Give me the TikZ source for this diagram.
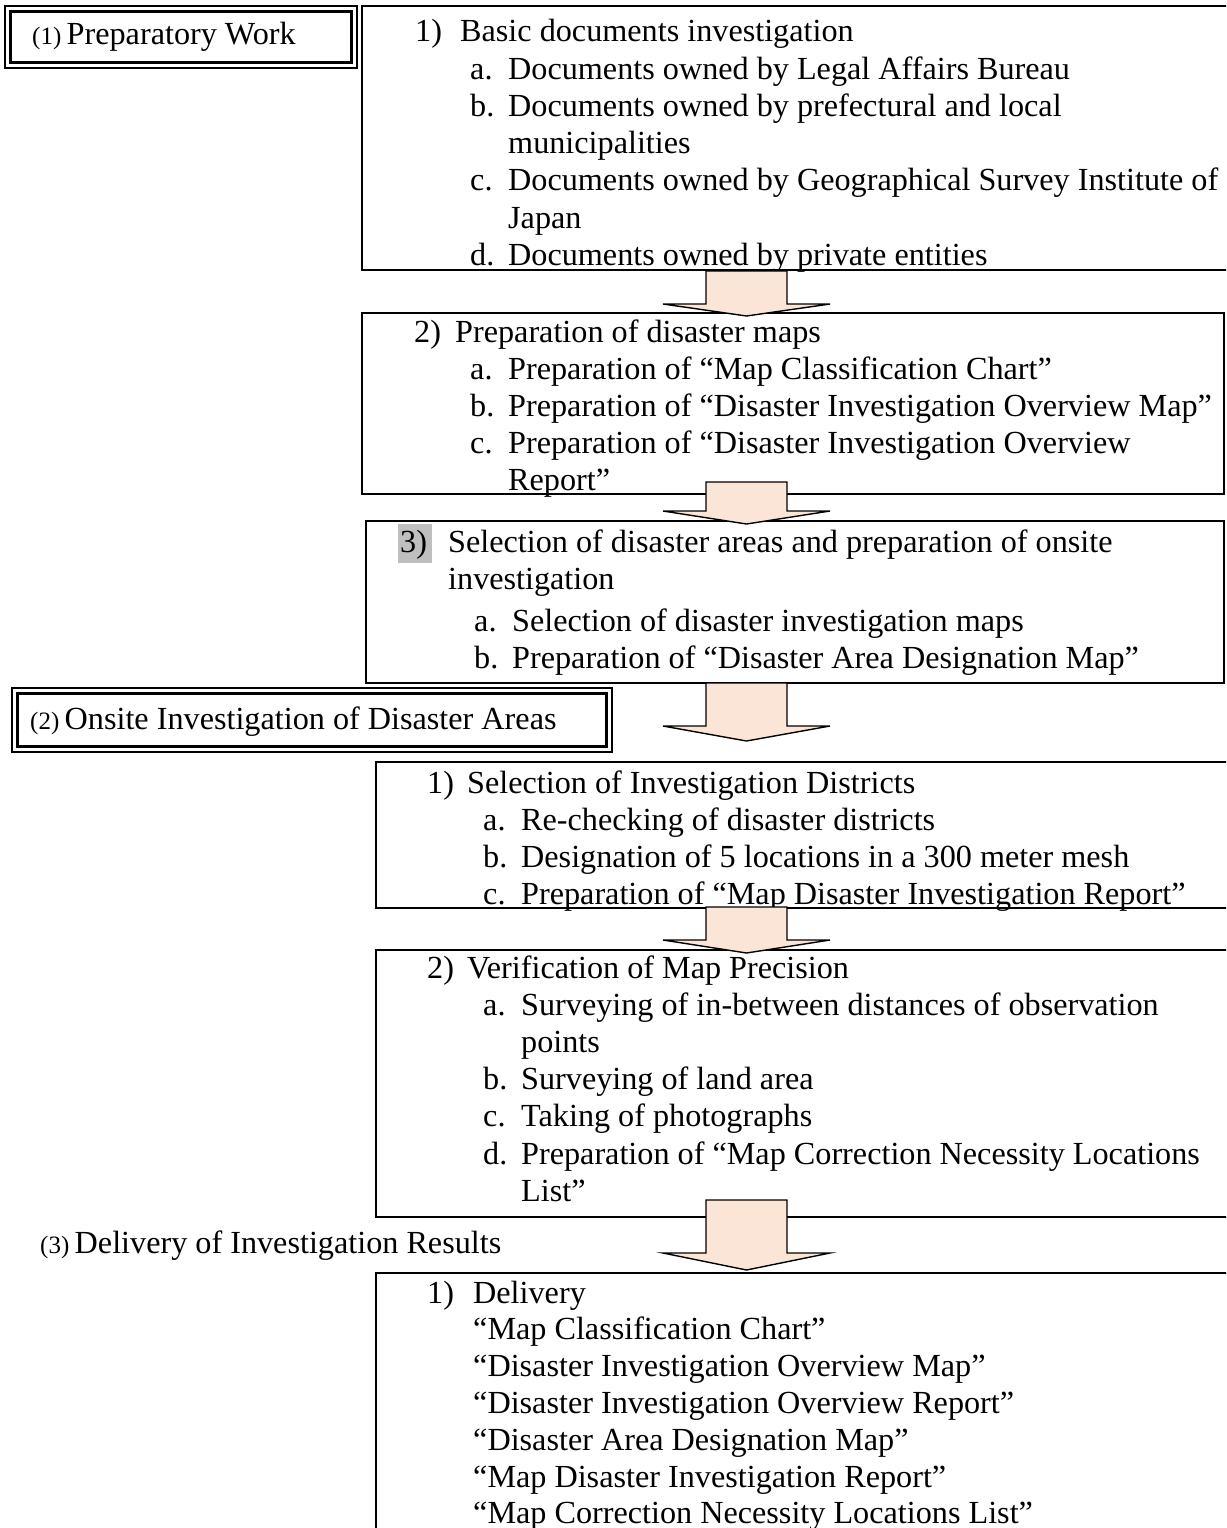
\documentclass[tikz,border=0pt]{standalone}
\usepackage{fontspec}
\setmainfont{Liberation Serif}
\definecolor{peach}{HTML}{FBE5D6}
\newcommand\Lrow[4]{\leavevmode\rlap{\hspace*{#1pt}#2}\hspace*{#3pt}#4}
\begin{document}
\begin{tikzpicture}[x=1pt,y=-1pt,
  txt/.style={anchor=base west,inner sep=0pt,font=\fontsize{32.2}{37.2}\selectfont},
  boxline/.style={draw=black,line width=1.4pt},
  outerline/.style={draw=black,line width=1.1pt},
  innerline/.style={draw=black,line width=2.6pt},
  bigarrow/.style={draw=black,line width=1.4pt,fill=peach,line join=miter}]
\useasboundingbox (0,0) rectangle (1226,1528);
\clip (0,0) rectangle (1226,1528);
\fill[white] (0,0) rectangle (1226,1528);

% ---- double box (1)
\draw[outerline] (5,6) rectangle (357,68);
\draw[innerline] (10.5,11.5) rectangle (351.5,62.5);
\node[txt] (h1) at (32,45) {{\fontsize{25}{30}\selectfont(1)}\,Preparatory Work};

% ---- box 1
\draw[boxline] (362,6) rectangle (1240,270);
\node[txt] (t1) at (362,42) {\parbox[t]{900pt}{%
\Lrow{53}{1)}{98}{Basic documents investigation}\\
\Lrow{108}{a.}{146}{Documents owned by Legal Affairs Bureau}\\
\Lrow{108}{b.}{146}{Documents owned by prefectural and local}\\
\Lrow{0}{}{146}{municipalities}\\
\Lrow{108}{c.}{146}{Documents owned by Geographical Survey Institute of}\\
\Lrow{0}{}{146}{Japan}\\
\Lrow{108}{d.}{146}{Documents owned by private entities}}};

% ---- box 2
\draw[boxline] (362,313) rectangle (1224,494);
\node[txt] (t2) at (362,342) {\parbox[t]{900pt}{%
\Lrow{52}{2)}{93}{Preparation of disaster maps}\\
\Lrow{108}{a.}{146}{Preparation of “Map Classification Chart”}\\
\Lrow{108}{b.}{146}{Preparation of “Disaster Investigation Overview Map”}\\
\Lrow{108}{c.}{146}{Preparation of “Disaster Investigation Overview}\\
\Lrow{0}{}{146}{Report”}}};

% ---- box 3
\draw[boxline] (366,521) rectangle (1224,683);
\fill[gray!50] (398,524) rectangle (432,563);
\node[txt] (t3) at (366,552) {\parbox[t]{900pt}{%
\Lrow{34}{3)}{82}{Selection of disaster areas and preparation of onsite}\\
\Lrow{0}{}{82}{investigation}\\[5pt]
\Lrow{108}{a.}{146}{Selection of disaster investigation maps}\\
\Lrow{108}{b.}{146}{Preparation of “Disaster Area Designation Map”}}};

% ---- double box (2)
\draw[outerline] (12,688) rectangle (612,752);
\draw[innerline] (17.5,693.5) rectangle (606.5,746.5);
\node[txt] (h2) at (30,729) {{\fontsize{25}{30}\selectfont(2)}\,Onsite Investigation of Disaster Areas};

% ---- box 4
\draw[boxline] (376,762) rectangle (1240,908);
\node[txt] (t4) at (376,793) {\parbox[t]{900pt}{%
\Lrow{51}{1)}{91}{Selection of Investigation Districts}\\
\Lrow{107}{a.}{145}{Re-checking of disaster districts}\\
\Lrow{107}{b.}{145}{Designation of 5 locations in a 300 meter mesh}\\
\Lrow{107}{c.}{145}{Preparation of “Map Disaster Investigation Report”}}};

% ---- box 5
\draw[boxline] (376,950) rectangle (1240,1217);
\node[txt] (t5) at (376,978) {\parbox[t]{900pt}{%
\Lrow{51}{2)}{91}{Verification of Map Precision}\\
\Lrow{107}{a.}{145}{Surveying of in-between distances of observation}\\
\Lrow{0}{}{145}{points}\\
\Lrow{107}{b.}{145}{Surveying of land area}\\
\Lrow{107}{c.}{145}{Taking of photographs}\\
\Lrow{107}{d.}{145}{Preparation of “Map Correction Necessity Locations}\\
\Lrow{0}{}{145}{List”}}};

% ---- heading (3)
\node[txt] (h3) at (40,1253) {{\fontsize{25}{30}\selectfont(3)}\,Delivery of Investigation Results};

% ---- box 6 (open at the bottom)
\draw[boxline] (376,1545) -- (376,1273) -- (1240,1273);
\node[txt] (t6) at (376,1303) {\parbox[t]{900pt}{\fontsize{32.2}{36.8}\selectfont
\Lrow{51}{1)}{97}{Delivery}\\
\Lrow{0}{}{97}{“Map Classification Chart”}\\
\Lrow{0}{}{97}{“Disaster Investigation Overview Map”}\\
\Lrow{0}{}{97}{“Disaster Investigation Overview Report”}\\
\Lrow{0}{}{97}{“Disaster Area Designation Map”}\\
\Lrow{0}{}{97}{“Map Disaster Investigation Report”}\\
\Lrow{0}{}{97}{“Map Correction Necessity Locations List”}}};

% ---- block arrows
\foreach \top/\w/\tip in {271/304/316, 482/511/524, 683/726/741, 907/940/953, 1200/1253/1270}{
  \draw[bigarrow] (706,\top) -- (706,\w) -- (663,\w) -- (746.5,\tip) -- (830,\w) -- (787,\w) -- (787,\top) -- cycle;
}
\end{tikzpicture}
\end{document}
